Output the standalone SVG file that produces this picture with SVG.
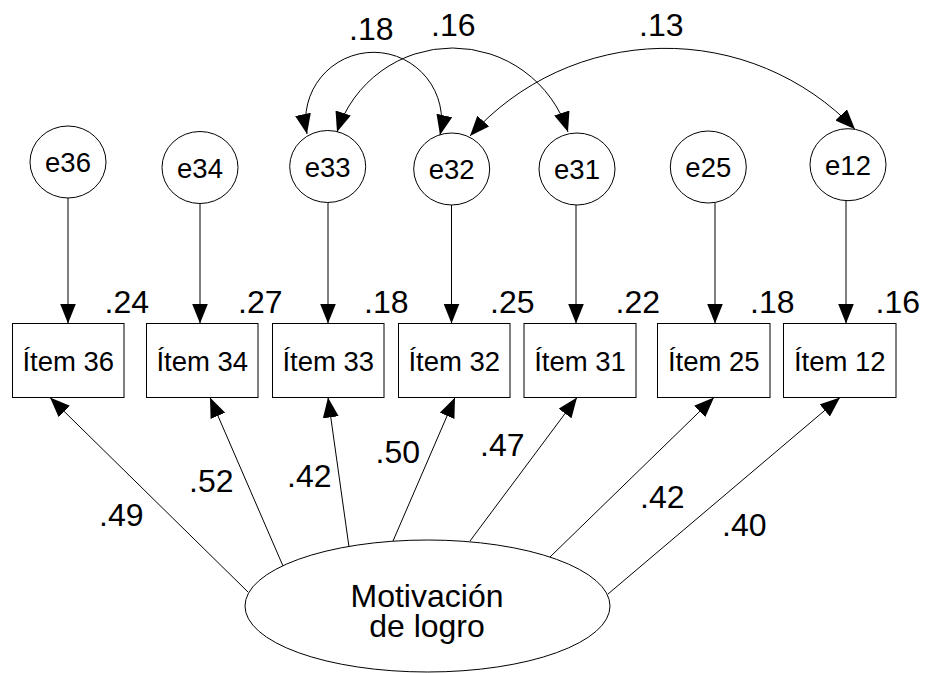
<svg xmlns="http://www.w3.org/2000/svg" width="925" height="673" viewBox="0 0 925 673">
  <style>
    .shape { fill: #fff; stroke: #000; stroke-width: 1; }
    .edge { fill: none; stroke: #000; stroke-width: 1; }
    .lbl { font-family: "Liberation Sans", Arial, sans-serif; fill: #000; }
    .node-text { font-size: 27.5px; text-anchor: middle; }
    .coef { font-size: 32px; }
    .latent-text { font-size: 32px; text-anchor: middle; }
  </style>
  <defs>
    <marker id="arrow" viewBox="0 0 20 16" refX="20" refY="8" markerWidth="20" markerHeight="16" markerUnits="userSpaceOnUse" orient="auto-start-reverse">
      <path d="M0,0 L20,8 L0,16 z" fill="#000"/>
    </marker>
  </defs>

  <!-- Paths, error terms and covariances -->
  <g id="connectors">
    <!-- error -> item -->
    <line class="edge" x1="68" y1="198" x2="68" y2="323.5" marker-end="url(#arrow)"/>
    <line class="edge" x1="200" y1="203.5" x2="200" y2="323.5" marker-end="url(#arrow)"/>
    <line class="edge" x1="328" y1="202.5" x2="328" y2="323.5" marker-end="url(#arrow)"/>
    <line class="edge" x1="451.5" y1="205" x2="451.5" y2="323.5" marker-end="url(#arrow)"/>
    <line class="edge" x1="576" y1="205" x2="576" y2="323.5" marker-end="url(#arrow)"/>
    <line class="edge" x1="715" y1="202.5" x2="715" y2="323.5" marker-end="url(#arrow)"/>
    <line class="edge" x1="846" y1="200.5" x2="846" y2="323.5" marker-end="url(#arrow)"/>

    <!-- factor -> item -->
    <line class="edge" x1="248" y1="592" x2="50" y2="397.5" marker-end="url(#arrow)"/>
    <line class="edge" x1="283" y1="566" x2="210" y2="397.5" marker-end="url(#arrow)"/>
    <line class="edge" x1="349" y1="547" x2="328" y2="397.5" marker-end="url(#arrow)"/>
    <line class="edge" x1="393" y1="541" x2="455" y2="397.5" marker-end="url(#arrow)"/>
    <line class="edge" x1="470" y1="541" x2="577" y2="397.5" marker-end="url(#arrow)"/>
    <line class="edge" x1="550" y1="557" x2="714" y2="397.5" marker-end="url(#arrow)"/>
    <line class="edge" x1="608" y1="594" x2="840" y2="397.5" marker-end="url(#arrow)"/>

    <!-- covariances between error terms -->
    <path class="edge" d="M307,134 A68,68 0 1 1 440,135" marker-start="url(#arrow)" marker-end="url(#arrow)"/>
    <path class="edge" d="M337,132 A121.4,121.4 0 0 1 568,132" marker-start="url(#arrow)" marker-end="url(#arrow)"/>
    <path class="edge" d="M470,136 A262,262 0 0 1 855,129.3" marker-start="url(#arrow)" marker-end="url(#arrow)"/>
  </g>

  <!-- Coefficient labels -->
  <g id="coefficients" class="lbl coef">
    <text x="349" y="40">.18</text>
    <text x="431" y="36">.16</text>
    <text x="639" y="36">.13</text>

    <text x="104.5" y="312.5">.24</text>
    <text x="238" y="312.5">.27</text>
    <text x="364" y="313">.18</text>
    <text x="490" y="313">.25</text>
    <text x="615.5" y="313">.22</text>
    <text x="750" y="313">.18</text>
    <text x="875.5" y="313">.16</text>

    <text x="99" y="526">.49</text>
    <text x="189" y="491.5">.52</text>
    <text x="287" y="487">.42</text>
    <text x="375.5" y="462.5">.50</text>
    <text x="480" y="456">.47</text>
    <text x="640" y="508">.42</text>
    <text x="722" y="535.5">.40</text>
  </g>

  <!-- Error terms -->
  <g id="e36"><ellipse class="shape" cx="68" cy="162" rx="38" ry="36"/><text class="lbl node-text" x="68" y="172">e36</text></g>
  <g id="e34"><ellipse class="shape" cx="200" cy="167.5" rx="38" ry="36"/><text class="lbl node-text" x="200" y="177.5">e34</text></g>
  <g id="e33"><ellipse class="shape" cx="327.7" cy="166.5" rx="38" ry="36"/><text class="lbl node-text" x="327.7" y="176.5">e33</text></g>
  <g id="e32"><ellipse class="shape" cx="451.7" cy="169" rx="38" ry="36"/><text class="lbl node-text" x="451.7" y="179">e32</text></g>
  <g id="e31"><ellipse class="shape" cx="577" cy="169" rx="38" ry="36"/><text class="lbl node-text" x="577" y="179">e31</text></g>
  <g id="e25"><ellipse class="shape" cx="708.3" cy="167" rx="38" ry="36"/><text class="lbl node-text" x="708.3" y="177">e25</text></g>
  <g id="e12"><ellipse class="shape" cx="848" cy="164.7" rx="38" ry="36"/><text class="lbl node-text" x="848" y="174.7">e12</text></g>

  <!-- Observed items -->
  <g id="item36"><rect class="shape" x="12.5" y="323.5" width="111.5" height="74"/><text class="lbl node-text" x="68.3" y="371">Ítem 36</text></g>
  <g id="item34"><rect class="shape" x="146.5" y="323.5" width="111.5" height="74"/><text class="lbl node-text" x="202.3" y="371">Ítem 34</text></g>
  <g id="item33"><rect class="shape" x="272.5" y="323.5" width="111.5" height="74"/><text class="lbl node-text" x="328.3" y="371">Ítem 33</text></g>
  <g id="item32"><rect class="shape" x="398.5" y="323.5" width="111.5" height="74"/><text class="lbl node-text" x="454.3" y="371">Ítem 32</text></g>
  <g id="item31"><rect class="shape" x="524" y="323.5" width="112" height="74"/><text class="lbl node-text" x="580" y="371">Ítem 31</text></g>
  <g id="item25"><rect class="shape" x="657.5" y="323.5" width="112.5" height="74"/><text class="lbl node-text" x="713.8" y="371">Ítem 25</text></g>
  <g id="item12"><rect class="shape" x="783.5" y="323.5" width="112.5" height="74"/><text class="lbl node-text" x="839.8" y="371">Ítem 12</text></g>

  <!-- Latent factor -->
  <g id="motivacion">
    <ellipse class="shape" cx="427.5" cy="606" rx="182.5" ry="66"/>
    <text class="lbl latent-text" x="427" y="606.5">Motivación</text>
    <text class="lbl latent-text" x="427" y="637">de logro</text>
  </g>
</svg>
